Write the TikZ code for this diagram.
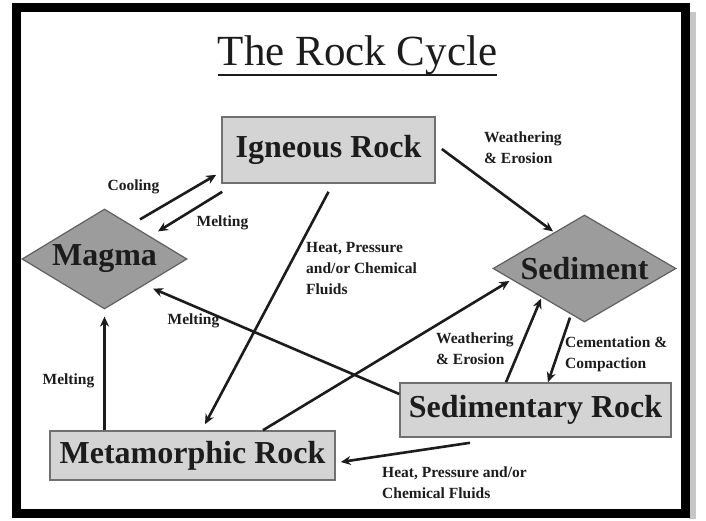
\documentclass[tikz,border=0pt]{standalone}
\usepackage{fontspec}
\setmainfont{Liberation Serif}
\usetikzlibrary{shapes.geometric,arrows.meta,calc}
\definecolor{boxfill}{HTML}{D4D4D4}
\definecolor{boxline}{HTML}{707070}
\definecolor{diafill}{HTML}{9C9C9C}
\definecolor{dialine}{HTML}{606060}
\definecolor{ink}{HTML}{1C1C1C}
\tikzset{
  rockbox/.style={draw=boxline, line width=1.6pt, fill=boxfill, rectangle, inner sep=0pt,
    text=ink, font=\bfseries\fontsize{32}{36}\selectfont},
  rockdia/.style={draw=dialine, line width=1.2pt, fill=diafill, diamond, inner sep=0pt,
    text=ink, font=\bfseries\fontsize{32}{36}\selectfont},
  arr/.style={draw=ink, line width=2.6pt, -{Stealth[length=10pt,width=9pt]}},
  lbl/.style={text=ink, inner sep=0pt, font=\bfseries\fontsize{15.5}{21}\selectfont}
}
\begin{document}
\begin{tikzpicture}[x=1pt,y=1pt]
\useasboundingbox (0,0) rectangle (706,-521);
\fill[white] (0,0) rectangle (706,-521);
% frame with shadow
\fill[gray!45] (689,-12) rectangle (696,-519);
\draw[line width=9pt, black] (16.5,-7.5) rectangle (685.5,-513);
% title
\node[inner sep=0pt, anchor=base, text=ink, font=\fontsize{43}{48}\selectfont] (title) at (357.5,-66) {The Rock Cycle};
\draw[ink, line width=2.4pt] ([yshift=-9pt]title.base west) -- ([yshift=-9pt]title.base east);
% nodes
\node[rockbox, minimum width=213pt, minimum height=66pt] (ign) at (328.5,-150) {Igneous Rock};
\node[rockbox, minimum width=271pt, minimum height=54pt] (sedr) at (535.5,-410) {Sedimentary Rock};
\node[rockbox, minimum width=285pt, minimum height=49pt] (met) at (192.5,-455.5) {Metamorphic Rock};
\node[rockdia, minimum width=165pt, minimum height=100pt, shape aspect=1.65] (mag) at (104.5,-259) {Magma};
\node[rockdia, minimum width=183pt, minimum height=107pt, shape aspect=1.7] (sed) at (584.5,-268.5) {Sediment};
% arrows
\draw[arr] ($(mag.north)+(35.5,-11)$) -- ($(ign.south west)+(-5,9)$);
\draw[arr] ($(ign.south west)+(1,-8)$) -- ($(mag.north)+(53.5,-23)$);
\draw[arr] ($(ign.east)+(6,1)$) -- ($(sed.north)+(-31.5,-17)$);
\draw[arr] ($(ign.south)+(0,-8)$) -- ($(met.north)+(12.5,6)$);
\draw[arr] ($(sedr.west)+(0,16)$) -- ($(mag.south)+(48.5,21)$);
\draw[arr] ($(met.north)+(70.5,0)$) -- ($(sed.west)+(17,-12.5)$);
\draw[arr] ($(sedr.north)+(-29.5,0)$) -- ($(sed.south)+(-43.5,24)$);
\draw[arr] ($(sed.south)+(-14.5,5)$) -- ($(sedr.north)+(12.5,0)$);
\draw[arr] ($(sedr.south)+(-65.5,-5)$) -- ($(met.east)+(5,-6.5)$);
\draw[arr] ($(met.north)+(-88,0)$) -- ($(mag.south)+(0,-7)$);
% labels
\node[lbl] (lcool) at (133.5,-187) {Cooling};
\node[lbl] (lmelt1) at (222.5,-223) {Melting};
\node[lbl, anchor=west, align=left] (lwe1) at (484,-148) {Weathering\\\& Erosion};
\node[lbl, anchor=west, align=left] (lheat1) at (306,-269) {Heat, Pressure\\and/or Chemical\\Fluids};
\node[lbl] (lmelt2) at (193.5,-321) {Melting};
\node[lbl] (lmelt3) at (68.5,-381) {Melting};
\node[lbl, anchor=west, align=left] (lwe2) at (436,-349) {Weathering\\\& Erosion};
\node[lbl, anchor=west, align=left] (lcem) at (565,-354) {Cementation \&\\Compaction};
\node[lbl, anchor=west, align=left] (lheat2) at (382,-482.5) {Heat, Pressure and/or\\Chemical Fluids};
\end{tikzpicture}
\end{document}
